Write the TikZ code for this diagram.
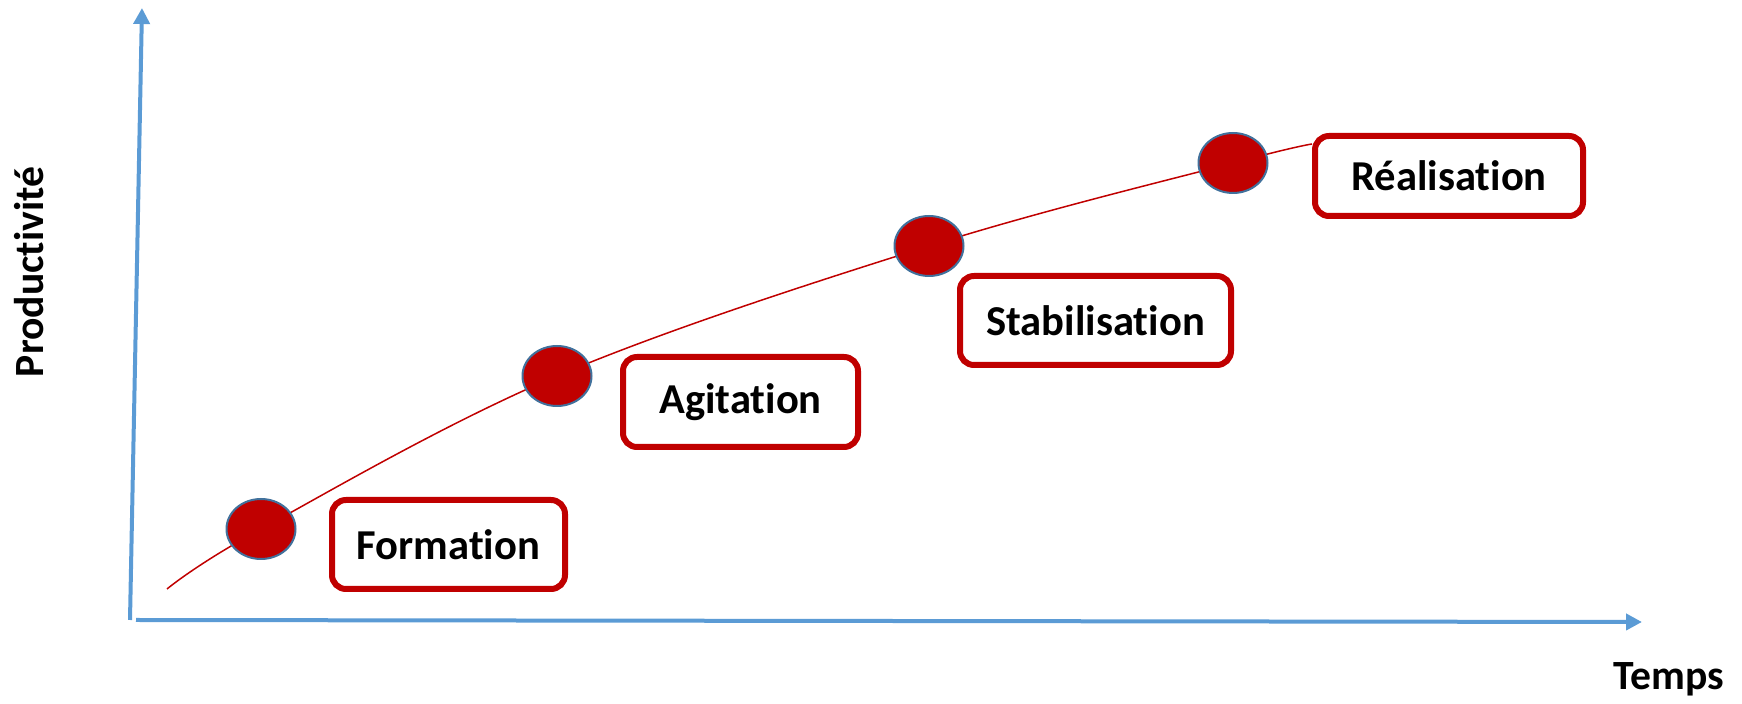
\documentclass[tikz,border=0pt]{standalone}
\usepackage{fontspec}
\setmainfont[Ligatures=NoCommon]{Carlito}
\usetikzlibrary{arrows.meta,shapes.geometric,backgrounds}

\definecolor{axisblue}{HTML}{5B9BD5}
\definecolor{darkred}{HTML}{C00000}
\definecolor{dotborder}{HTML}{41719C}

\begin{document}
\begin{tikzpicture}[x=0.5pt, y=-0.5pt,
  axis/.style = {draw=axisblue, line width=2pt,
    -{Triangle[width=8pt,length=8pt]}},
  dot/.style = {shape=ellipse, draw=dotborder, line width=1pt,
    fill=darkred, inner sep=0pt,
    minimum width=34.5pt, minimum height=30pt},
  phase/.style = {shape=rectangle, rounded corners=7pt,
    draw=darkred, line width=3pt, fill=white, align=center,
    font=\bfseries\fontsize{21.3}{25}\selectfont},
  label/.style = {font=\bfseries\fontsize{20.8}{25}\selectfont},
  curve/.style = {draw=darkred, line width=0.75pt}]
  \useasboundingbox (0,0) rectangle (1742,704);

  % axes
  \coordinate (ybottom) at (130,620);
  \coordinate (ytop) at (142,8);
  \coordinate (xleft) at (136,620);
  \coordinate (xright) at (1642,622);
  \draw[axis] (ybottom) -- (ytop);
  \draw[axis] (xleft) -- (xright);
  \node[label, rotate=90, anchor=base] (prod) at (43,272) {Productivité};
  \node[label, anchor=base] (temps) at (1669,690) {Temps};

  % phases
  \node[dot] (p1) at (261,529) {};
  \node[dot] (p2) at (557,376) {};
  \node[dot] (p3) at (929,246) {};
  \node[dot] (p4) at (1233,163) {};
  \node[phase, minimum width=116.5pt, minimum height=44.5pt]
    (formation) at (448.5,544.5) {Formation};
  \node[phase, minimum width=117.5pt, minimum height=45pt]
    (agitation) at (740.5,402) {Agitation};
  \node[phase, minimum width=135.5pt, minimum height=44.5pt]
    (stabilisation) at (1095.5,320.5) {Stabilisation};
  \node[phase, minimum width=134pt, minimum height=40pt]
    (realisation) at (1449,176) {Réalisation};

  % courbe
  \coordinate (start) at (167,589);
  \coordinate (end) at (1312,144);
  \begin{scope}[on background layer]
    \draw[curve] plot[smooth, tension=0.6] coordinates
      {(start) (p1.center) (p2.center) (p3.center) (p4.center) (end)};
  \end{scope}
\end{tikzpicture}
\end{document}
